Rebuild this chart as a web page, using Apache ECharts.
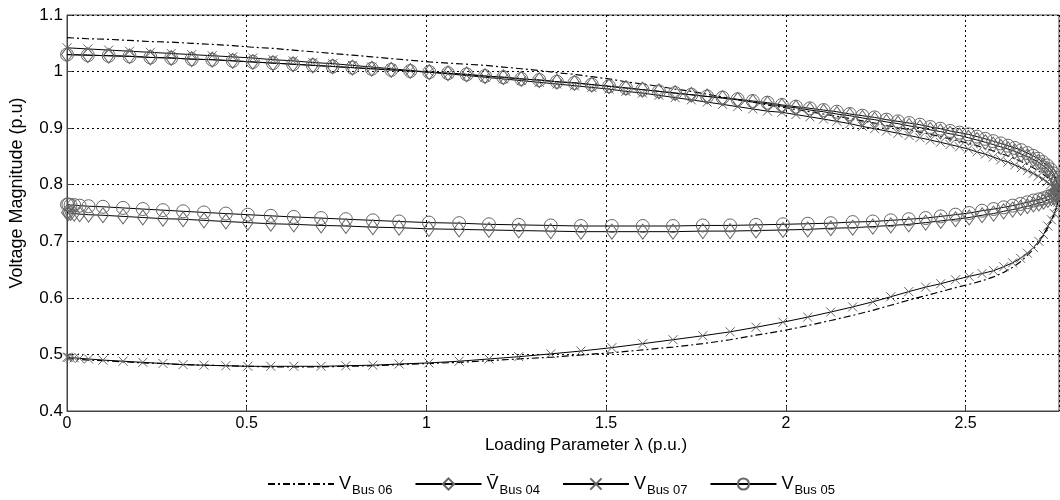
<!DOCTYPE html>
<html>
<head>
<meta charset="utf-8">
<script src="https://cdn.jsdelivr.net/npm/echarts@6/dist/echarts.min.js"></script>
<style>
  html, body { margin: 0; padding: 0; background: #fff; }
  #chart { width: 1060px; height: 500px; }
</style>
</head>
<body>
<div id="chart"></div>
<script>
// loading parameter, upper branch (lambda = 0 -> nose)
const lamUpper = [0, 0.058, 0.116, 0.174, 0.232, 0.29, 0.347, 0.404, 0.461, 0.517, 0.573, 0.629, 0.684, 0.739, 0.794, 0.848, 0.902, 0.955, 1.008, 1.06,
  1.112, 1.163, 1.214, 1.264, 1.314, 1.363, 1.412, 1.46, 1.508, 1.555, 1.601, 1.647, 1.692, 1.737, 1.781, 1.824, 1.866, 1.908, 1.949, 1.989,
  2.028, 2.067, 2.105, 2.142, 2.178, 2.213, 2.247, 2.28, 2.312, 2.343, 2.373, 2.402, 2.43, 2.457, 2.483, 2.508, 2.532, 2.555, 2.577, 2.598,
  2.618, 2.637, 2.655, 2.672, 2.688, 2.702, 2.715, 2.727, 2.737, 2.745, 2.751, 2.755, 2.758];
// loading parameter, lower branch (nose -> lambda = 0)
const lamLower = [2.759, 2.757, 2.753, 2.747, 2.739, 2.729, 2.717, 2.704, 2.689, 2.672, 2.653, 2.631, 2.606, 2.578, 2.546, 2.51, 2.472, 2.431, 2.389, 2.342,
  2.292, 2.242, 2.186, 2.125, 2.061, 1.992, 1.917, 1.845, 1.769, 1.686, 1.602, 1.516, 1.43, 1.346, 1.257, 1.174, 1.091, 1.007, 0.924, 0.851,
  0.776, 0.707, 0.631, 0.567, 0.503, 0.442, 0.381, 0.323, 0.267, 0.211, 0.156, 0.1, 0.06, 0.035, 0.02, 0.01, 0.004, 0];

const vBus06Upper = [1.060, 1.058, 1.057, 1.055, 1.053, 1.052, 1.050, 1.048, 1.046, 1.043, 1.041, 1.038, 1.035, 1.032, 1.029, 1.026, 1.023, 1.020, 1.017, 1.015,
  1.013, 1.011, 1.008, 1.005, 1.002, 0.998, 0.995, 0.991, 0.987, 0.982, 0.978, 0.974, 0.969, 0.965, 0.960, 0.955, 0.950, 0.946, 0.941, 0.937,
  0.933, 0.929, 0.925, 0.921, 0.917, 0.913, 0.909, 0.905, 0.901, 0.897, 0.893, 0.889, 0.885, 0.881, 0.877, 0.873, 0.869, 0.864, 0.860, 0.855,
  0.851, 0.846, 0.841, 0.836, 0.830, 0.825, 0.819, 0.813, 0.807, 0.801, 0.796, 0.791, 0.787];
const vBus06Lower = [0.786, 0.772, 0.760, 0.748, 0.736, 0.724, 0.711, 0.698, 0.686, 0.675, 0.664, 0.654, 0.645, 0.637, 0.630, 0.624, 0.618, 0.611, 0.604, 0.596,
  0.587, 0.578, 0.569, 0.560, 0.551, 0.542, 0.534, 0.526, 0.519, 0.513, 0.508, 0.503, 0.499, 0.495, 0.492, 0.489, 0.486, 0.484, 0.482, 0.480,
  0.479, 0.478, 0.478, 0.478, 0.479, 0.480, 0.481, 0.482, 0.484, 0.485, 0.487, 0.489, 0.490, 0.491, 0.492, 0.492, 0.493, 0.493];

const vBus04Upper = [1.030, 1.029, 1.028, 1.027, 1.025, 1.024, 1.022, 1.021, 1.019, 1.017, 1.015, 1.013, 1.011, 1.009, 1.007, 1.005, 1.003, 1.001, 0.999, 0.997,
  0.995, 0.992, 0.990, 0.987, 0.985, 0.982, 0.980, 0.977, 0.974, 0.971, 0.968, 0.965, 0.962, 0.959, 0.956, 0.953, 0.950, 0.946, 0.943, 0.939,
  0.936, 0.932, 0.929, 0.925, 0.922, 0.918, 0.915, 0.911, 0.908, 0.904, 0.901, 0.897, 0.894, 0.890, 0.887, 0.883, 0.879, 0.875, 0.871, 0.867,
  0.863, 0.859, 0.854, 0.850, 0.845, 0.840, 0.834, 0.828, 0.822, 0.815, 0.808, 0.801, 0.795];
const vBus04Lower = [0.789, 0.785, 0.782, 0.779, 0.776, 0.773, 0.770, 0.767, 0.765, 0.762, 0.759, 0.756, 0.753, 0.749, 0.746, 0.742, 0.739, 0.736, 0.733, 0.730,
  0.728, 0.726, 0.724, 0.723, 0.721, 0.720, 0.719, 0.718, 0.718, 0.717, 0.717, 0.717, 0.717, 0.718, 0.719, 0.720, 0.721, 0.722, 0.724, 0.725,
  0.727, 0.728, 0.730, 0.731, 0.733, 0.735, 0.737, 0.739, 0.740, 0.742, 0.744, 0.746, 0.747, 0.748, 0.749, 0.750, 0.750, 0.751];

const vBus07Upper = [1.042, 1.040, 1.038, 1.036, 1.034, 1.032, 1.030, 1.028, 1.026, 1.024, 1.021, 1.019, 1.016, 1.014, 1.011, 1.008, 1.005, 1.002, 0.999, 0.996,
  0.993, 0.990, 0.987, 0.984, 0.981, 0.978, 0.975, 0.972, 0.969, 0.965, 0.962, 0.958, 0.954, 0.950, 0.946, 0.942, 0.938, 0.934, 0.930, 0.928,
  0.924, 0.920, 0.916, 0.912, 0.908, 0.903, 0.899, 0.895, 0.891, 0.887, 0.883, 0.879, 0.875, 0.871, 0.867, 0.863, 0.858, 0.854, 0.849, 0.844,
  0.840, 0.835, 0.830, 0.825, 0.820, 0.815, 0.810, 0.805, 0.800, 0.795, 0.791, 0.787, 0.783];
const vBus07Lower = [0.780, 0.770, 0.760, 0.749, 0.738, 0.727, 0.712, 0.700, 0.689, 0.679, 0.670, 0.662, 0.655, 0.648, 0.643, 0.638, 0.632, 0.625, 0.619, 0.611,
  0.602, 0.593, 0.584, 0.575, 0.566, 0.557, 0.548, 0.540, 0.533, 0.526, 0.519, 0.512, 0.506, 0.501, 0.496, 0.492, 0.488, 0.485, 0.483, 0.481,
  0.480, 0.479, 0.479, 0.479, 0.479, 0.480, 0.481, 0.482, 0.484, 0.486, 0.488, 0.490, 0.492, 0.493, 0.494, 0.494, 0.495, 0.495];

const vBus05Upper = [1.030, 1.029, 1.028, 1.027, 1.025, 1.024, 1.022, 1.021, 1.019, 1.017, 1.015, 1.013, 1.011, 1.009, 1.007, 1.005, 1.003, 1.001, 0.999, 0.997,
  0.995, 0.992, 0.990, 0.987, 0.985, 0.982, 0.980, 0.977, 0.974, 0.971, 0.968, 0.965, 0.962, 0.959, 0.956, 0.954, 0.951, 0.948, 0.945, 0.941,
  0.938, 0.935, 0.932, 0.929, 0.925, 0.922, 0.919, 0.915, 0.912, 0.909, 0.906, 0.902, 0.899, 0.895, 0.892, 0.889, 0.885, 0.881, 0.877, 0.873,
  0.869, 0.865, 0.861, 0.856, 0.851, 0.846, 0.840, 0.834, 0.827, 0.820, 0.812, 0.804, 0.797];
const vBus05Lower = [0.792, 0.789, 0.786, 0.784, 0.781, 0.779, 0.776, 0.774, 0.772, 0.769, 0.766, 0.763, 0.760, 0.757, 0.754, 0.750, 0.747, 0.744, 0.741, 0.739,
  0.737, 0.735, 0.734, 0.732, 0.731, 0.730, 0.729, 0.728, 0.728, 0.727, 0.727, 0.727, 0.727, 0.728, 0.729, 0.730, 0.732, 0.733, 0.735, 0.737,
  0.739, 0.741, 0.743, 0.745, 0.747, 0.749, 0.751, 0.753, 0.755, 0.757, 0.759, 0.761, 0.762, 0.763, 0.764, 0.764, 0.765, 0.765];

const busNames = ['Bus 06', 'Bus 04', 'Bus 07', 'Bus 05'];
const xTicks = ['0', '0.5', '1', '1.5', '2', '2.5'];

function curve(vUp, vLow) {
  const pts = [];
  lamUpper.forEach((l, i) => pts.push([l, vUp[i]]));
  lamLower.forEach((l, i) => pts.push([l, vLow[i]]));
  return pts;
}

const markerStyle = { color: 'transparent', borderColor: '#666', borderWidth: 1 };
const lineBlack = { color: '#000', width: 1 };
const narrow = 'Liberation Sans Narrow, Liberation Sans, Arial';

const chart = echarts.init(document.getElementById('chart'));

chart.setOption({
  animation: false,
  backgroundColor: '#fff',
  grid: { left: 66, right: 1, top: 15, bottom: 89, show: true, borderColor: '#444', borderWidth: 1 },
  xAxis: {
    type: 'value', min: 0, max: 2.76, interval: 0.5,
    name: 'Loading Parameter λ (p.u.)', nameLocation: 'middle', nameGap: 19,
    nameTextStyle: { fontFamily: narrow, fontSize: 17, color: '#000', padding: [0, 0, 0, 46] },
    axisLine: { lineStyle: { color: '#444' } },
    axisTick: { inside: true, length: 5, lineStyle: { color: '#444' } },
    axisLabel: {
      showMaxLabel: false, margin: 5, color: '#000', fontSize: 16, fontFamily: narrow,
      formatter: v => xTicks[Math.round(v / 0.5)]
    },
    splitLine: { show: true, lineStyle: { color: '#000', type: [2, 3], width: 1 } }
  },
  yAxis: {
    type: 'value', min: 0.4, max: 1.1, interval: 0.1,
    name: 'Voltage Magnitude (p.u)', nameLocation: 'middle', nameGap: 41,
    nameTextStyle: { fontFamily: 'Liberation Sans, Arial', fontSize: 18, color: '#000', padding: [0, 0, 0, 40] },
    axisLine: { lineStyle: { color: '#444' } },
    axisTick: { inside: true, length: 5, lineStyle: { color: '#444' } },
    axisLabel: {
      margin: 4, color: '#000', fontSize: 17, fontFamily: 'Liberation Sans, Arial',
      formatter: v => String(Math.round(v * 10) / 10)
    },
    splitLine: { show: true, lineStyle: { color: '#000', type: [2, 3], width: 1 } }
  },
  legend: {
    top: 470, left: 262, itemWidth: 66, itemHeight: 14, itemGap: 22,
    data: [
      { name: 'Bus 06', itemStyle: { opacity: 0 } },
      'Bus 04', 'Bus 07', 'Bus 05'
    ],
    textStyle: {
      fontFamily: narrow, color: '#000',
      rich: {
        v: { fontSize: 18, fontFamily: narrow, color: '#000' },
        s: { fontSize: 13, fontFamily: narrow, color: '#000', padding: [12, 0, 0, 1] }
      }
    },
    formatter: name => '{v|' + (name === 'Bus 04' ? 'V\u0304' : 'V') + '}{s|' + name + '}'
  },
  series: [
    {
      name: busNames[0], type: 'line', data: curve(vBus06Upper, vBus06Lower),
      showSymbol: false, symbol: 'none',
      lineStyle: { color: '#000', width: 1.2, type: [7, 3, 2, 3] },
      itemStyle: { color: '#000' }
    },
    {
      name: busNames[1], type: 'line', data: curve(vBus04Upper, vBus04Lower),
      symbol: 'diamond', symbolSize: [11, 15],
      lineStyle: lineBlack, itemStyle: markerStyle
    },
    {
      name: busNames[2], type: 'line', data: curve(vBus07Upper, vBus07Lower),
      symbol: 'path://M0,0L10,10M10,0L0,10', symbolSize: 9,
      lineStyle: lineBlack, itemStyle: markerStyle
    },
    {
      name: busNames[3], type: 'line', data: curve(vBus05Upper, vBus05Lower),
      symbol: 'circle', symbolSize: 13,
      lineStyle: lineBlack, itemStyle: markerStyle
    }
  ]
});
</script>
</body>
</html>
